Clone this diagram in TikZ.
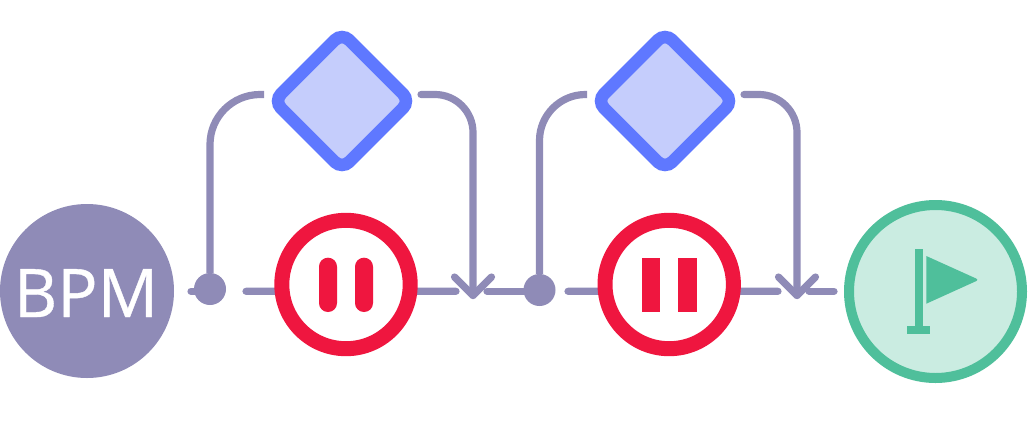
\documentclass[tikz,border=0pt]{standalone}
\usepackage{fontspec}
\setmainfont[FakeBold=0.6]{Open Sans}
\usetikzlibrary{shapes.geometric}
\pgfdeclarelayer{back}
\pgfsetlayers{back,main}
\definecolor{flowc}{HTML}{8F8BB7}
\definecolor{redc}{HTML}{EF163F}
\definecolor{bluec}{HTML}{5F78FF}
\definecolor{bluef}{HTML}{C5CDFC}
\definecolor{greenc}{HTML}{4FBF9B}
\definecolor{greenf}{HTML}{CAECE1}
\tikzset{
  flow/.style={draw=flowc,line width=7.2pt,line cap=round,line join=round},
  startev/.style={circle,fill=flowc,text=white,minimum size=174pt,inner sep=0pt,outer sep=0pt,text height=52pt,text depth=0pt,font=\fontsize{67pt}{67pt}\selectfont},
  dot/.style={circle,fill=flowc,minimum size=32pt,inner sep=0pt,outer sep=0pt},
  holdc/.style={circle,draw=redc,fill=white,line width=15pt,minimum size=128.4pt,inner sep=0pt,outer sep=0pt},
  gate/.style={diamond,draw=bluec,fill=bluef,line width=12.5pt,rounded corners=10pt,minimum size=136.2pt,inner sep=0pt,outer sep=0pt},
  endev/.style={circle,draw=greenc,fill=greenf,line width=10pt,minimum size=173pt,inner sep=0pt,outer sep=0pt},
  rbar/.style={fill=redc},
  gmark/.style={fill=greenc}
}
\begin{document}
\begin{tikzpicture}[x=1pt,y=-1pt]
\useasboundingbox (0,0) rectangle (1035,426);
\node[startev] (start) at (87,291) {BPM\kern 2pt};
\node[dot] (j1) at (210,289) {};
\node[dot] (j2) at (539.5,290) {};
\node[holdc] (h1) at (346,284.5) {};
\node[holdc] (h2) at (669.2,284.5) {};
\node[gate] (g1) at (342,101) {};
\node[gate] (g2) at (665,101) {};
\node[endev] (e) at (935.5,291.5) {};
% pause bars
\fill[rbar,rounded corners=8.9pt] (319,257.7) rectangle (337,312);
\fill[rbar,rounded corners=8.9pt] (355,257.7) rectangle (373,312);
\fill[rbar] (642,257.7) rectangle (660.3,312);
\fill[rbar] (678,257.7) rectangle (696.5,312);
% flag
\fill[gmark] (915,249) rectangle (922.7,327);
\fill[gmark] (907,326) rectangle (930.3,334);
\fill[gmark] (926.3,256) [rounded corners=3pt] -- (979,279.8) [sharp corners] -- (926.3,303.7) -- cycle;
% free ends
\coordinate (a0) at (191,291.3);
\coordinate (a1) at (246,291.3);
\coordinate (a3) at (456,291.3);
\coordinate (a4) at (487,291.3);
\coordinate (a5) at (568,291.3);
\coordinate (a7) at (778,291.3);
\coordinate (a8) at (809,291.3);
\coordinate (a9) at (834,291.3);
\coordinate (t1) at (473,295.5);
\coordinate (b1a) at (454.5,277);
\coordinate (b1b) at (491.5,277);
\coordinate (t2) at (797,295.5);
\coordinate (b2a) at (778.5,277);
\coordinate (b2b) at (815.5,277);
\coordinate (l1) at (264,94.5);
\coordinate (r1) at (421,94.5);
\coordinate (l2) at (587,94.5);
\coordinate (r2) at (744,94.5);
\begin{pgfonlayer}{back}
% horizontal flow
\draw[flow] (a0) -- (a0 -| j1);
\draw[flow] (a1) -- (h1.186);
\draw[flow] (h1.-6) -- (a3);
\draw[flow] (a4) -- (a4 -| j2);
\draw[flow] (a5) -- (h2.186);
\draw[flow] (h2.-6) -- (a7);
\draw[flow] (a8) -- (a9);
% upper branches
\draw[flow,line cap=butt,rounded corners=50pt] (j1) |- (l1);
\draw[flow,rounded corners=38pt] (r1) -| (t1);
\draw[flow,line cap=butt,rounded corners=46pt] (j2) |- (l2);
\draw[flow,rounded corners=38pt] (r2) -| (t2);
% arrow barbs
\draw[flow] (b1a) -- (t1) -- (b1b);
\draw[flow] (b2a) -- (t2) -- (b2b);
\end{pgfonlayer}
\end{tikzpicture}
\end{document}
